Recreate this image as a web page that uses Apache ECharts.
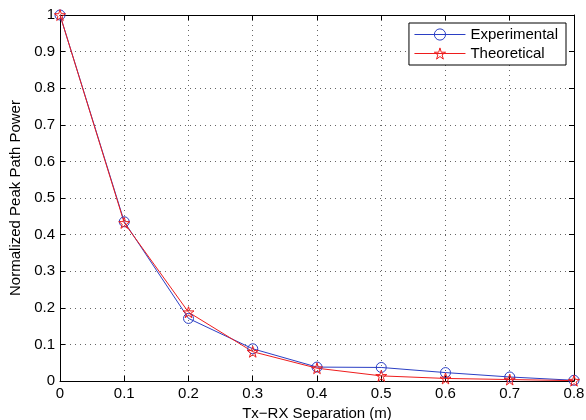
<!DOCTYPE html>
<html><head><meta charset="utf-8">
<script src="https://cdn.jsdelivr.net/npm/echarts@6/dist/echarts.min.js"></script>
<style>html,body{margin:0;padding:0;background:#fff}#c{width:586px;height:420px}</style>
</head><body><div id="c"></div>
<script>
const xValues = [0, 0.1, 0.2, 0.3, 0.4, 0.5, 0.6, 0.7, 0.8];
const experimental = [1, 0.435, 0.171, 0.088, 0.038, 0.037, 0.023, 0.011, 0.002];
const theoretical = [1, 0.432, 0.188, 0.08, 0.035, 0.014, 0.007, 0.004, 0.001];
const seriesNames = ['Experimental', 'Theoretical'];
const xLabel = 'Tx\u2212RX Separation (m)';
const yLabel = 'Normalized Peak Path Power';

const font = 'Liberation Sans, Arial, Helvetica, sans-serif';
const fmt = v => String(Math.round(v * 10) / 10);
const star = 'path://M50,0 L61,35 L98,35 L68,57 L79,91 L50,70 L21,91 L32,57 L2,35 L39,35 Z';
const blue = '#2b3fc4';
const red = '#ee1c1c';
const clear = 'rgba(255,255,255,0)';
const grid = {type: [1, 4], color: '#666', width: 1};
const axisCommon = {
  axisLine: {show: true, onZero: false, lineStyle: {color: '#000', width: 1}},
  axisTick: {show: true, inside: true, length: 5, lineStyle: {color: '#000'}}
};
const chart = echarts.init(document.getElementById('c'));
chart.setOption({
  animation: false,
  backgroundColor: '#fff',
  grid: {left: 60, right: 12, top: 15, bottom: 39, containLabel: false, outerBoundsMode: 'none'},
  legend: {
    orient: 'vertical', right: 20, top: 23,
    backgroundColor: '#fff', borderColor: '#000', borderWidth: 1,
    padding: [4, 8, 4, 5], itemGap: 4, itemWidth: 51, itemHeight: 14,
    textStyle: {fontFamily: font, fontSize: 15, color: '#000'},
    data: [
      {name: seriesNames[0], itemStyle: {color: clear, borderColor: blue, borderWidth: 1}, lineStyle: {color: blue, width: 1}},
      {name: seriesNames[1], itemStyle: {color: clear, borderColor: red, borderWidth: 1}, lineStyle: {color: red, width: 1}}
    ]
  },
  xAxis: [
    Object.assign({type: 'value', min: 0, max: 0.8, interval: 0.1,
      name: xLabel, nameLocation: 'middle', nameGap: 21,
      nameTextStyle: {fontFamily: font, fontSize: 15, color: '#000'},
      axisLabel: {formatter: fmt, fontFamily: font, fontSize: 15, color: '#000', margin: 5},
      splitLine: {show: true, lineStyle: grid}}, axisCommon),
    Object.assign({type: 'value', position: 'top', min: 0, max: 0.8, interval: 0.1,
      axisLabel: {show: false}, splitLine: {show: false}}, axisCommon)
  ],
  yAxis: [
    Object.assign({type: 'value', min: 0, max: 1, interval: 0.1,
      name: yLabel, nameLocation: 'middle', nameGap: 35, nameRotate: 90,
      nameTextStyle: {fontFamily: font, fontSize: 15, color: '#000'},
      axisLabel: {formatter: fmt, fontFamily: font, fontSize: 15, color: '#000', margin: 5},
      splitLine: {show: true, lineStyle: grid}}, axisCommon),
    Object.assign({type: 'value', position: 'right', min: 0, max: 1, interval: 0.1,
      axisLabel: {show: false}, splitLine: {show: false}}, axisCommon)
  ],
  series: [
    {name: seriesNames[0], type: 'line', data: xValues.map((x, i) => [x, experimental[i]]),
      symbol: 'circle', symbolSize: 10, showAllSymbol: true,
      lineStyle: {color: blue, width: 1}, itemStyle: {color: clear, borderColor: blue, borderWidth: 1}},
    {name: seriesNames[1], type: 'line', data: xValues.map((x, i) => [x, theoretical[i]]),
      symbol: star, symbolSize: 11, showAllSymbol: true,
      lineStyle: {color: red, width: 1}, itemStyle: {color: clear, borderColor: red, borderWidth: 1}}
  ]
});
</script></body></html>
